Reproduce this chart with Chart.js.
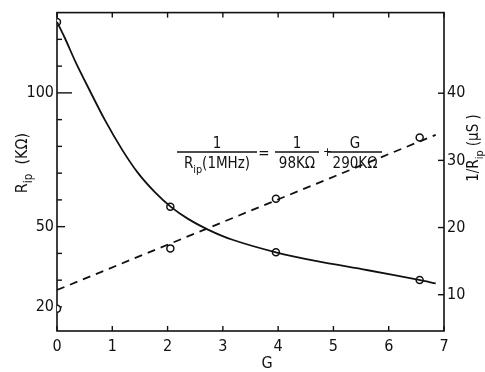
<!DOCTYPE html>
<html>
<head>
<meta charset="utf-8">
<script src="https://cdn.jsdelivr.net/npm/chart.js@4"></script>
<style>
  html, body { margin: 0; padding: 0; background: #fff; }
  #wrap { width: 485px; height: 372px; }
</style>
</head>
<body>
<div id="wrap"><canvas id="chart"></canvas></div>
<script>
// solid curve R_ip vs G
const gCurve = [0, 0.14, 0.33, 0.56, 0.87, 1.18, 1.46, 1.77, 2.06, 2.37, 2.73, 3.16, 3.96, 4.7, 5.6, 6.55, 6.85];
const ripCurve = [126.5, 120.6, 111.8, 102.2, 89.7, 78.7, 70.2, 62.9, 57.4, 52.9, 48.9, 45.2, 40.4, 37.1, 33.8, 30.1, 28.8];

// measured points
const gPoints = [0, 2.05, 3.96, 6.56];
const ripPoints = [126.5, 57.4, 40.4, 30.1];
const invPoints = [7.9, 16.9, 24.3, 33.4];

// dashed fit line 1/R_ip
const gFit = [0, 6.85];
const invFit = [10.7, 33.8];

// ticks
const xTicks = [0, 1, 2, 3, 4, 5, 6, 7];
const leftTicks = [20, 30, 40, 50, 60, 70, 80, 90, 100, 110, 120];
const leftLabels = [20, 50, 100];
const rightTicks = [10, 20, 30, 40];

const FONT = '"DejaVu Sans Condensed", "Liberation Sans Narrow", "Liberation Sans", sans-serif';
const INK = '#111';

const pts = (xs, ys) => xs.map((x, i) => ({ x: x, y: ys[i] }));

function richText(ctx, x, y, parts, size) {
  // parts: [text, isSub]; centred on x, baseline y
  const widths = parts.map(p => {
    ctx.font = (p[1] ? size * 0.72 : size) + 'px ' + FONT;
    return ctx.measureText(p[0]).width;
  });
  let cx = x - widths.reduce((a, b) => a + b, 0) / 2;
  ctx.textAlign = 'left';
  ctx.textBaseline = 'alphabetic';
  parts.forEach((p, i) => {
    ctx.font = (p[1] ? size * 0.72 : size) + 'px ' + FONT;
    ctx.fillText(p[0], cx, p[1] ? y + size * 0.3 : y);
    cx += widths[i];
  });
}

function fraction(ctx, x, y, num, den, size, barW) {
  ctx.beginPath();
  ctx.moveTo(x - barW / 2, y);
  ctx.lineTo(x + barW / 2, y);
  ctx.stroke();
  richText(ctx, x, y - 4, num, size);
  richText(ctx, x, y + size + 1, den, size);
}

const decor = {
  id: 'decor',
  beforeDatasetsDraw(chart) {
    const { ctx, chartArea: a, scales } = chart;
    const line = (x1, y1, x2, y2) => { ctx.beginPath(); ctx.moveTo(x1, y1); ctx.lineTo(x2, y2); ctx.stroke(); };
    ctx.save();
    ctx.strokeStyle = INK;
    ctx.lineWidth = 1.6;
    ctx.strokeRect(a.left, a.top, a.right - a.left, a.bottom - a.top);
    ctx.lineWidth = 1.4;
    xTicks.forEach(v => {
      const px = scales.x.getPixelForValue(v);
      line(px, a.bottom, px, a.bottom - 5);
      line(px, a.top, px, a.top + 5);
    });
    leftTicks.forEach(v => {
      const py = scales.y.getPixelForValue(v);
      const len = v === 100 ? 15 : (v === 50 ? 8 : 5);
      line(a.left, py, a.left + len, py);
    });
    rightTicks.forEach(v => {
      const py = scales.y1.getPixelForValue(v);
      line(a.right - 6, py, a.right, py);
    });
    ctx.restore();
  },
  afterDraw(chart) {
    const { ctx } = chart;
    ctx.save();
    ctx.fillStyle = INK;
    ctx.strokeStyle = INK;
    ctx.lineWidth = 1.3;

    // left axis title
    ctx.save();
    ctx.translate(27, 163);
    ctx.rotate(-Math.PI / 2);
    richText(ctx, 0, 0, [['R', false], ['ip', true], ['  (KΩ)', false]], 16);
    ctx.restore();

    // right axis title
    ctx.save();
    ctx.translate(478, 148);
    ctx.rotate(-Math.PI / 2);
    richText(ctx, 0, 0, [['1/R', false], ['ip', true], [' (μS )', false]], 15);
    ctx.restore();

    // x axis title
    ctx.font = '16px ' + FONT;
    ctx.textAlign = 'center';
    ctx.textBaseline = 'alphabetic';
    ctx.fillText('G', 267, 368);

    // formula
    fraction(ctx, 217, 152, [['1', false]], [['R', false], ['ip', true], ['(1MHz)', false]], 15, 80);
    ctx.font = '15px ' + FONT;
    ctx.textAlign = 'center';
    ctx.fillText('=', 264, 158);
    fraction(ctx, 297, 152, [['1', false]], [['98KΩ', false]], 15, 44);
    ctx.font = '12px ' + FONT;
    ctx.fillText('+', 323, 156);
    fraction(ctx, 355, 152, [['G', false]], [['290KΩ', false]], 15, 54);
    ctx.restore();
  }
};

const ctx = document.getElementById('chart').getContext('2d');
new Chart(ctx, {
  type: 'scatter',
  data: {
    datasets: [
      {
        label: 'R_ip curve',
        data: pts(gCurve, ripCurve),
        yAxisID: 'y',
        showLine: true,
        borderColor: INK,
        borderWidth: 1.8,
        pointRadius: 0,
        tension: 0.3
      },
      {
        label: '1/R_ip fit',
        data: pts(gFit, invFit),
        yAxisID: 'y1',
        showLine: true,
        borderColor: INK,
        borderWidth: 1.8,
        borderDash: [8, 6],
        pointRadius: 0
      },
      {
        label: 'R_ip',
        data: pts(gPoints, ripPoints),
        yAxisID: 'y',
        pointRadius: 3.5,
        pointBorderWidth: 1.5,
        pointBackgroundColor: '#fff',
        pointBorderColor: INK
      },
      {
        label: '1/R_ip',
        data: pts(gPoints, invPoints),
        yAxisID: 'y1',
        pointRadius: 3.5,
        pointBorderWidth: 1.5,
        pointBackgroundColor: '#fff',
        pointBorderColor: INK
      }
    ]
  },
  options: {
    responsive: true,
    maintainAspectRatio: false,
    animation: false,
    layout: { padding: { top: 7, left: 0, right: 0, bottom: 0 } },
    plugins: { legend: { display: false }, tooltip: { enabled: false } },
    scales: {
      x: {
        type: 'linear',
        min: 0,
        max: 7,
        afterBuildTicks: s => { s.ticks = xTicks.map(v => ({ value: v })); },
        afterFit: s => { s.height = 41; },
        grid: { display: false, drawTicks: false },
        border: { display: false },
        ticks: { color: INK, padding: 6, font: { family: FONT, size: 16 } }
      },
      y: {
        position: 'left',
        min: 11,
        max: 130,
        afterBuildTicks: s => { s.ticks = leftTicks.map(v => ({ value: v })); },
        afterFit: s => { s.width = 57; },
        grid: { display: false, drawTicks: false },
        border: { display: false },
        ticks: {
          color: INK,
          padding: 3,
          font: { family: FONT, size: 16 },
          callback: v => leftLabels.includes(v) ? String(v) : ''
        }
      },
      y1: {
        position: 'right',
        min: 4.6,
        max: 52,
        afterBuildTicks: s => { s.ticks = rightTicks.map(v => ({ value: v })); },
        afterFit: s => { s.width = 41; },
        grid: { display: false, drawTicks: false },
        border: { display: false },
        ticks: { color: INK, padding: 3, font: { family: FONT, size: 16 } }
      }
    }
  },
  plugins: [decor]
});
</script>
</body>
</html>
